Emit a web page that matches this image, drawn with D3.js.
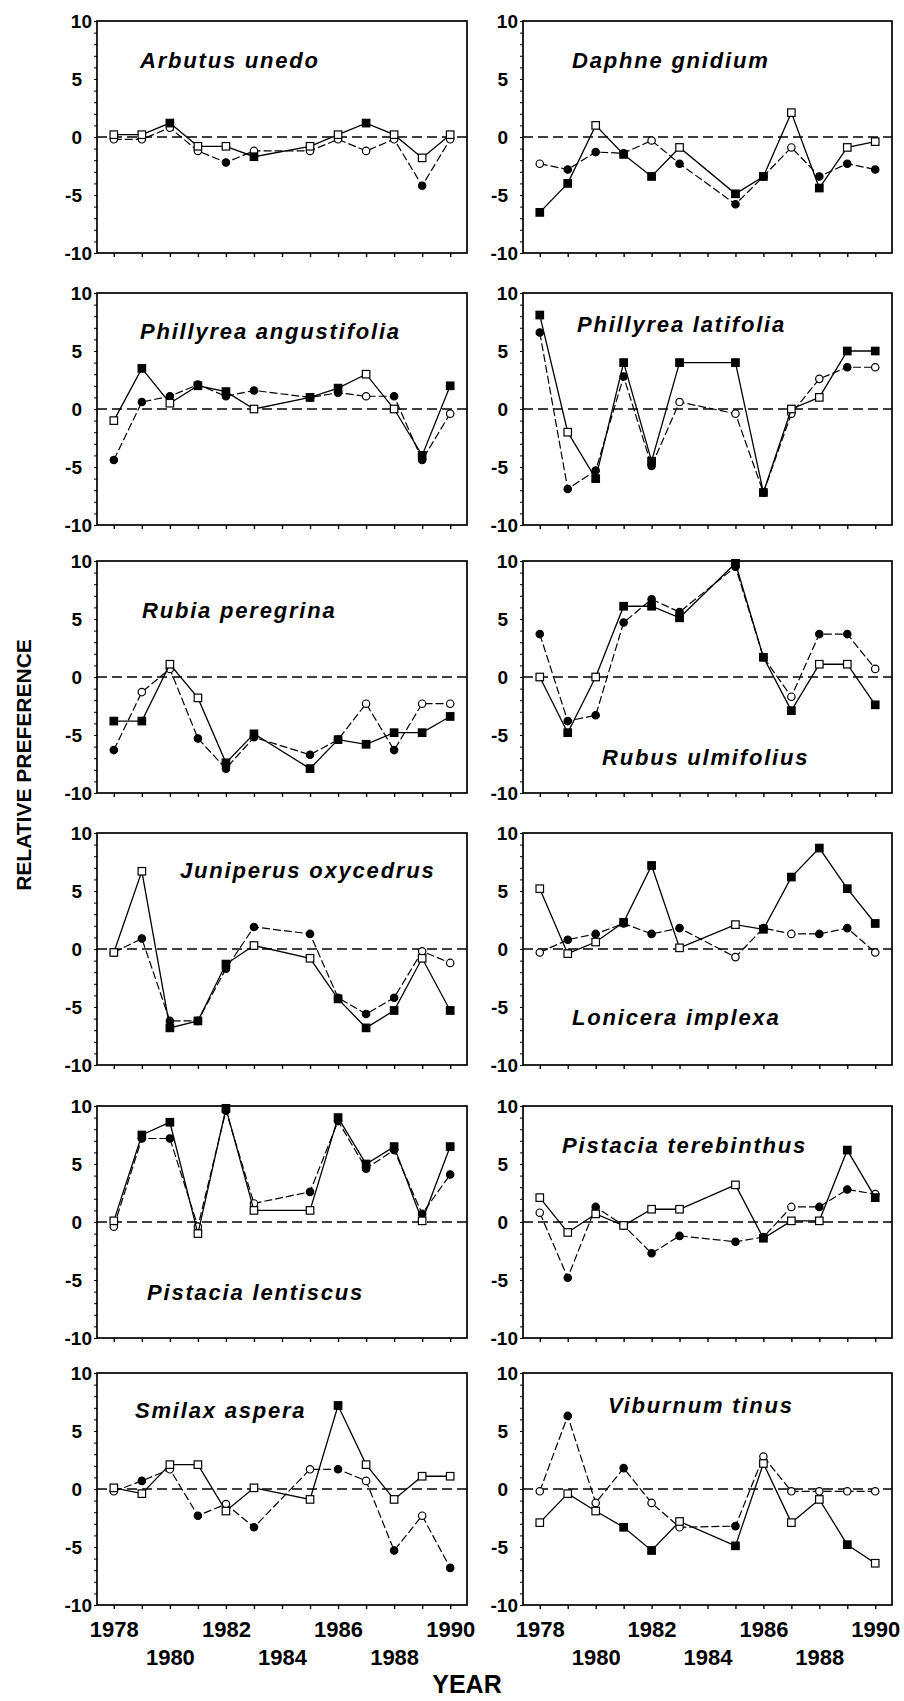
<!DOCTYPE html>
<html>
<head>
<meta charset="utf-8">
<script src="https://cdn.jsdelivr.net/npm/d3@7"></script>
<style>
  body { margin: 0; background: #fff; }
  svg { display: block; }
  text { font-family: "Liberation Sans", Arial, Helvetica, sans-serif; fill: #000; }
</style>
</head>
<body>
<svg id="chart" width="904" height="1701"></svg>
<script>
// Survey years (no census in 1984)
const years = [1978, 1979, 1980, 1981, 1982, 1983, 1985, 1986, 1987, 1988, 1989, 1990];
const tickYears = d3.range(1978, 1991);
const yearLabelsUpper = [1978, 1982, 1986, 1990];
const yearLabelsLower = [1980, 1984, 1988];
const yTickValues = [-10, -5, 0, 5, 10];
const yMinorValues = d3.range(-10, 11);

const speciesNames = [
  "Arbutus unedo", "Daphne gnidium",
  "Phillyrea angustifolia", "Phillyrea latifolia",
  "Rubia peregrina", "Rubus ulmifolius",
  "Juniperus oxycedrus", "Lonicera implexa",
  "Pistacia lentiscus", "Pistacia terebinthus",
  "Smilax aspera", "Viburnum tinus"
];

// Square series (solid line); 1 = filled marker, 0 = open marker
const squareValues = [
  [0.2, 0.2, 1.2, -0.8, -0.8, -1.7, -0.8, 0.2, 1.2, 0.2, -1.8, 0.2],
  [-6.5, -4.0, 1.0, -1.5, -3.4, -0.9, -4.9, -3.4, 2.1, -4.4, -0.9, -0.4],
  [-1.0, 3.5, 0.5, 2.0, 1.5, 0.0, 1.0, 1.8, 3.0, 0.0, -4.0, 2.0],
  [8.1, -2.0, -6.0, 4.0, -4.5, 4.0, 4.0, -7.2, 0.0, 1.0, 5.0, 5.0],
  [-3.8, -3.8, 1.1, -1.8, -7.4, -4.9, -7.9, -5.4, -5.8, -4.8, -4.8, -3.4],
  [0.0, -4.8, 0.0, 6.1, 6.1, 5.1, 9.8, 1.7, -2.9, 1.1, 1.1, -2.4],
  [-0.3, 6.7, -6.8, -6.2, -1.3, 0.3, -0.8, -4.3, -6.8, -5.3, -0.8, -5.3],
  [5.2, -0.4, 0.6, 2.3, 7.2, 0.1, 2.1, 1.7, 6.2, 8.7, 5.2, 2.2],
  [0.1, 7.5, 8.6, -1.0, 9.8, 1.0, 1.0, 9.0, 5.0, 6.5, 0.1, 6.5],
  [2.1, -0.9, 0.7, -0.3, 1.1, 1.1, 3.2, -1.4, 0.1, 0.1, 6.2, 2.1],
  [0.1, -0.4, 2.1, 2.1, -1.9, 0.1, -0.9, 7.2, 2.1, -0.9, 1.1, 1.1],
  [-2.9, -0.4, -1.9, -3.3, -5.3, -2.8, -4.9, 2.2, -2.9, -0.9, -4.8, -6.4]
];
const squareFilled = [
  [0, 0, 1, 0, 0, 1, 0, 0, 1, 0, 0, 0],
  [1, 1, 0, 1, 1, 0, 1, 1, 0, 1, 0, 0],
  [0, 1, 0, 1, 1, 0, 1, 1, 0, 0, 1, 1],
  [1, 0, 1, 1, 1, 1, 1, 1, 0, 0, 1, 1],
  [1, 1, 0, 0, 1, 1, 1, 1, 1, 1, 1, 1],
  [0, 1, 0, 1, 1, 1, 1, 1, 1, 0, 0, 1],
  [0, 0, 1, 1, 1, 0, 0, 1, 1, 1, 0, 1],
  [0, 0, 0, 1, 1, 0, 0, 1, 1, 1, 1, 1],
  [0, 1, 1, 0, 1, 0, 0, 1, 1, 1, 0, 1],
  [0, 0, 0, 0, 0, 0, 0, 1, 0, 0, 1, 1],
  [0, 0, 0, 0, 0, 0, 0, 1, 0, 0, 0, 0],
  [0, 0, 0, 1, 1, 0, 1, 0, 0, 0, 1, 0]
];

// Circle series (dashed line); 1 = filled marker, 0 = open marker
const circleValues = [
  [-0.2, -0.2, 0.8, -1.2, -2.2, -1.2, -1.2, -0.2, -1.2, -0.2, -4.2, -0.2],
  [-2.3, -2.8, -1.3, -1.4, -0.3, -2.3, -5.8, -3.4, -0.9, -3.4, -2.3, -2.8],
  [-4.4, 0.6, 1.1, 2.1, 1.1, 1.6, 1.0, 1.4, 1.1, 1.1, -4.4, -0.4],
  [6.6, -6.9, -5.3, 2.8, -4.9, 0.6, -0.4, -7.2, -0.4, 2.6, 3.6, 3.6],
  [-6.3, -1.3, 0.7, -5.3, -7.9, -5.2, -6.7, -5.4, -2.3, -6.3, -2.3, -2.3],
  [3.7, -3.8, -3.3, 4.7, 6.7, 5.6, 9.5, 1.7, -1.7, 3.7, 3.7, 0.7],
  [-0.3, 0.9, -6.2, -6.2, -1.7, 1.9, 1.3, -4.2, -5.6, -4.2, -0.2, -1.2],
  [-0.3, 0.8, 1.3, 2.2, 1.3, 1.8, -0.7, 1.8, 1.3, 1.3, 1.8, -0.3],
  [-0.4, 7.2, 7.2, -0.4, 9.6, 1.6, 2.6, 8.7, 4.6, 6.2, 0.7, 4.1],
  [0.8, -4.8, 1.3, -0.3, -2.7, -1.2, -1.7, -1.3, 1.3, 1.3, 2.8, 2.4],
  [-0.2, 0.7, 1.7, -2.3, -1.3, -3.3, 1.7, 1.7, 0.7, -5.3, -2.3, -6.8],
  [-0.2, 6.3, -1.2, 1.8, -1.2, -3.3, -3.2, 2.8, -0.2, -0.2, -0.2, -0.2]
];
const circleFilled = [
  [0, 0, 0, 0, 1, 0, 0, 0, 0, 0, 1, 0],
  [0, 1, 1, 1, 0, 1, 1, 1, 0, 1, 1, 1],
  [1, 1, 1, 1, 1, 1, 1, 1, 0, 1, 1, 0],
  [1, 1, 1, 1, 1, 0, 0, 1, 0, 0, 1, 0],
  [1, 0, 0, 1, 1, 1, 1, 1, 0, 1, 0, 0],
  [1, 1, 1, 1, 1, 1, 1, 1, 0, 1, 1, 0],
  [0, 1, 1, 1, 1, 1, 1, 1, 1, 1, 0, 0],
  [0, 1, 1, 1, 1, 1, 0, 1, 0, 1, 1, 0],
  [0, 1, 1, 0, 1, 0, 1, 1, 1, 1, 1, 1],
  [0, 1, 1, 1, 1, 1, 1, 1, 0, 1, 1, 0],
  [0, 1, 0, 1, 0, 1, 0, 1, 0, 1, 0, 1],
  [0, 1, 0, 1, 0, 0, 1, 0, 0, 0, 0, 0]
];

// ---- layout ----
const svg = d3.select("#chart");
const columns = [{ left: 97, right: 467 }, { left: 523, right: 892 }];
const rowTops = [21, 293, 561, 833, 1106, 1373];
const panelHeight = 232;
// species name placement inside each panel: [dx from left edge, baseline dy from top]
const nameOffsets = [
  [43, 47], [49, 47],
  [43, 46], [54, 39],
  [45, 57], [79, 204],
  [83, 45], [49, 192],
  [50, 194], [39, 47],
  [38, 45], [85, 40]
];

const squareSize = 7.5;
const circleRadius = 3.7;
const fontStack = "'Liberation Sans', Arial, sans-serif";

speciesNames.forEach((name, i) => {
  const col = columns[i % 2];
  const row = Math.floor(i / 2);
  const top = rowTops[row];
  const bottom = top + panelHeight;

  const x = d3.scaleLinear().domain([1977.4, 1990.6]).range([col.left, col.right]);
  const y = d3.scaleLinear().domain([-10, 10]).range([bottom, top]);

  const g = svg.append("g").attr("class", "panel");

  // minor y ticks
  g.append("g")
    .attr("transform", `translate(${col.left},0)`)
    .call(d3.axisLeft(y).tickValues(yMinorValues).tickSize(3).tickFormat(""))
    .call(a => a.select(".domain").remove())
    .call(a => a.selectAll("line").attr("stroke-width", 1));

  // y tick labels (plain hyphen for negatives; end labels sit closer to the axis)
  const yLab = g.append("g")
    .attr("transform", `translate(${col.left},0)`)
    .call(d3.axisLeft(y).tickValues(yTickValues).tickSize(0).tickPadding(15).tickFormat(d => String(d)))
    .call(a => a.select(".domain").remove());
  yLab.selectAll("text")
    .attr("font-size", 19)
    .attr("font-weight", "bold")
    .attr("font-family", fontStack)
    .attr("dx", d => Math.abs(d) === 10 ? 10 : 0);

  // x ticks
  g.append("g")
    .attr("transform", `translate(0,${bottom})`)
    .call(d3.axisBottom(x).tickValues(tickYears).tickSize(4).tickFormat(""))
    .call(a => a.select(".domain").remove())
    .call(a => a.selectAll("line").attr("stroke-width", 1.4));

  // year labels on the bottom row only
  if (row === rowTops.length - 1) {
    [[yearLabelsUpper, 16], [yearLabelsLower, 44]].forEach(([vals, pad]) => {
      g.append("g")
        .attr("transform", `translate(0,${bottom})`)
        .call(d3.axisBottom(x).tickValues(vals).tickSize(0).tickPadding(pad).tickFormat(d => String(d)))
        .call(a => a.select(".domain").remove())
        .selectAll("text")
        .attr("font-size", 22)
        .attr("font-weight", "bold")
        .attr("font-family", fontStack);
    });
  }

  // zero reference line
  g.append("line")
    .attr("x1", col.left).attr("x2", col.right)
    .attr("y1", y(0)).attr("y2", y(0))
    .attr("stroke", "#000").attr("stroke-width", 1.3)
    .attr("stroke-dasharray", "10,5");

  // frame
  g.append("rect")
    .attr("x", col.left).attr("y", top)
    .attr("width", col.right - col.left).attr("height", panelHeight)
    .attr("fill", "none").attr("stroke", "#000").attr("stroke-width", 1.7);

  const circleData = years.map((yr, k) => ({ yr, v: circleValues[i][k], f: circleFilled[i][k] }));
  const squareData = years.map((yr, k) => ({ yr, v: squareValues[i][k], f: squareFilled[i][k] }));
  const line = d3.line().x(d => x(d.yr)).y(d => y(d.v));

  // circle series
  g.append("path").datum(circleData)
    .attr("d", line).attr("fill", "none")
    .attr("stroke", "#000").attr("stroke-width", 1.2)
    .attr("stroke-dasharray", "8,3");
  g.selectAll("circle.pt").data(circleData).join("circle")
    .attr("class", "pt")
    .attr("cx", d => x(d.yr)).attr("cy", d => y(d.v)).attr("r", circleRadius)
    .attr("fill", d => d.f ? "#000" : "#fff")
    .attr("stroke", "#000").attr("stroke-width", 1.2);

  // square series
  g.append("path").datum(squareData)
    .attr("d", line).attr("fill", "none")
    .attr("stroke", "#000").attr("stroke-width", 1.3);
  g.selectAll("rect.pt").data(squareData).join("rect")
    .attr("class", "pt")
    .attr("x", d => x(d.yr) - squareSize / 2).attr("y", d => y(d.v) - squareSize / 2)
    .attr("width", squareSize).attr("height", squareSize)
    .attr("fill", d => d.f ? "#000" : "#fff")
    .attr("stroke", "#000").attr("stroke-width", 1.2);

  // species name
  g.append("text")
    .attr("x", col.left + nameOffsets[i][0])
    .attr("y", top + nameOffsets[i][1])
    .attr("font-size", 22)
    .attr("font-weight", "bold")
    .attr("font-style", "italic")
    .attr("letter-spacing", 1.8)
    .text(name);
});

// axis titles
svg.append("text")
  .attr("transform", "translate(31,765) rotate(-90)")
  .attr("text-anchor", "middle")
  .attr("font-size", 21)
  .attr("font-weight", "bold")
  .text("RELATIVE PREFERENCE");

svg.append("text")
  .attr("x", 467).attr("y", 1693)
  .attr("text-anchor", "middle")
  .attr("font-size", 25)
  .attr("font-weight", "bold")
  .text("YEAR");
</script>
</body>
</html>
